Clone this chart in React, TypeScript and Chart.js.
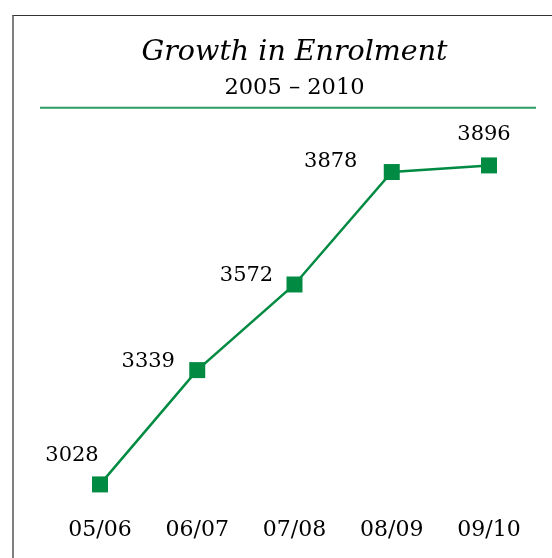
import React, { useEffect, useRef } from "react";
import { Chart, registerables } from "chart.js";

Chart.register(...registerables);

const categories = ["05/06", "06/07", "07/08", "08/09", "09/10"];
const enrolment = [3028, 3339, 3572, 3878, 3896];
const titleText = "Growth in Enrolment";
const subtitleText = "2005 – 2010";
// value-label offsets from each marker (style only)
const labelDx = [-28, -49, -48, -61, -5];
const labelDy = [-29, -9, -9, -10, -31];

const GREEN = "#008a42";
const TEXT = "#000";
const FONT = "'DejaVu Serif', serif";

const decorPlugin = {
  id: "decor",
  afterDraw(chart: any) {
    const ctx = chart.ctx;
    const area = chart.chartArea;
    ctx.save();
    // title rule
    ctx.strokeStyle = "#2a9d63";
    ctx.lineWidth = 2;
    ctx.beginPath();
    ctx.moveTo(40, area.top - 19.5);
    ctx.lineTo(536, area.top - 19.5);
    ctx.stroke();
    // value labels
    const meta = chart.getDatasetMeta(0);
    ctx.fillStyle = TEXT;
    ctx.font = "21px " + FONT;
    ctx.textAlign = "center";
    ctx.textBaseline = "middle";
    meta.data.forEach((pt: any, i: number) => {
      const v = String(chart.data.datasets[0].data[i]);
      ctx.fillText(v, pt.x + labelDx[i], pt.y + labelDy[i]);
    });
    ctx.restore();
  },
};

export default function App() {
  const ref = useRef<HTMLCanvasElement>(null);
  useEffect(() => {
    document.body.style.margin = "0";
    const chart = new Chart(ref.current!, {
      type: "line",
      data: {
        labels: categories,
        datasets: [
          {
            data: enrolment,
            borderColor: GREEN,
            backgroundColor: GREEN,
            borderWidth: 2.5,
            pointStyle: "rect",
            pointRadius: 11.3,
            pointHoverRadius: 11.3,
            pointBorderWidth: 0,
            tension: 0,
            clip: false as any,
          },
        ],
      },
      options: {
        animation: false,
        responsive: false,
        events: [],
        layout: { padding: { left: 100, right: 63, top: 25, bottom: 7.6 } },
        plugins: {
          legend: { display: false },
          tooltip: { enabled: false },
          title: {
            display: true,
            text: titleText,
            color: TEXT,
            font: { family: FONT, size: 28.5, style: "italic", weight: "normal" },
            padding: { top: 10, bottom: 0 },
          },
          subtitle: {
            display: true,
            text: subtitleText,
            color: TEXT,
            font: { family: FONT, size: 22.5, weight: "normal" },
            padding: { top: 5, bottom: 26 },
          },
        },
        scales: {
          x: {
            offset: false,
            grid: { display: false, drawTicks: false },
            border: { display: false },
            ticks: { color: TEXT, font: { family: FONT, size: 22 }, padding: 7.3 },
          },
          y: {
            display: false,
            min: 2960,
            max: 4000,
          },
        },
      },
      plugins: [decorPlugin],
    });
    return () => chart.destroy();
  }, []);
  return (
    <div style={{ position: "relative", width: 552, height: 558 }}>
      <div
        style={{
          position: "absolute",
          left: 12,
          top: 15,
          right: 0,
          bottom: 0,
          borderLeft: "2px solid #808080",
          borderTop: "1px solid #333",
        }}
      />
      <canvas ref={ref} width={552} height={558} style={{ position: "absolute", left: 0, top: 0 }} />
    </div>
  );
}
